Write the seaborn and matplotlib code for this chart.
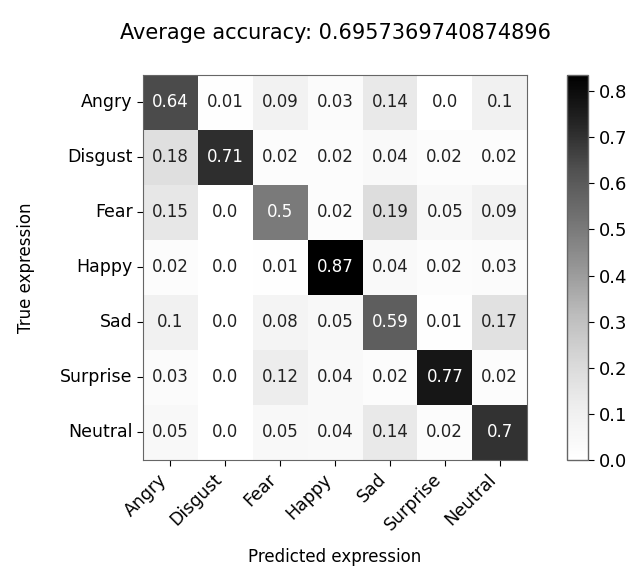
import numpy as np
import seaborn as sns
import matplotlib
matplotlib.use('Agg')
import matplotlib.pyplot as plt

# confusion matrix values (rows: true, cols: predicted)
labels = ['Angry', 'Disgust', 'Fear', 'Happy', 'Sad', 'Surprise', 'Neutral']
cm = np.array([
    [0.64, 0.01, 0.09, 0.03, 0.14, 0.0, 0.1],
    [0.18, 0.71, 0.02, 0.02, 0.04, 0.02, 0.02],
    [0.15, 0.0, 0.5, 0.02, 0.19, 0.05, 0.09],
    [0.02, 0.0, 0.01, 0.87, 0.04, 0.02, 0.03],
    [0.1, 0.0, 0.08, 0.05, 0.59, 0.01, 0.17],
    [0.03, 0.0, 0.12, 0.04, 0.02, 0.77, 0.02],
    [0.05, 0.0, 0.05, 0.04, 0.14, 0.02, 0.7],
])
accuracy = 0.6957369740874896
cbar_ticks = [0.0, 0.1, 0.2, 0.3, 0.4, 0.5, 0.6, 0.7, 0.8]

fig = plt.figure(figsize=(6.33, 5.75), dpi=100)
ax = fig.add_axes([0.226, 0.2, 0.6067, 0.6696])
cax = fig.add_axes([0.896, 0.2, 0.033, 0.6696])

annot = np.array([[str(v) for v in row] for row in cm])
sns.heatmap(cm, ax=ax, cbar_ax=cax, cmap='Greys', vmin=0, vmax=0.835,
            annot=annot, fmt='', annot_kws={'fontsize': 12},
            xticklabels=labels, yticklabels=labels)

# white text on dark cells, black elsewhere
thresh = cm.max() / 2
for t in ax.texts:
    v = float(t.get_text())
    t.set_color('white' if v > thresh else '#222222')

for s in ax.spines.values():
    s.set_visible(True)
    s.set_color('#666666')
ax.tick_params(axis='both', length=4, labelsize=12.5)
plt.setp(ax.get_xticklabels(), rotation=45, ha='right')
plt.setp(ax.get_yticklabels(), rotation=0)
ax.set_xlabel('Predicted expression', fontsize=12, labelpad=10)
ax.set_ylabel('True expression', fontsize=12, labelpad=18)
ax.set_title('Average accuracy: ' + str(accuracy), fontsize=15, pad=26)

cbar = ax.collections[0].colorbar
cbar.set_ticks(cbar_ticks)
cbar.set_ticklabels(['%.1f' % t for t in cbar_ticks])
cbar.ax.tick_params(labelsize=13, length=4)
cbar.outline.set_visible(True)
cbar.outline.set_linewidth(1)
cbar.outline.set_edgecolor('#666666')

fig.savefig('out.png', dpi=100)
